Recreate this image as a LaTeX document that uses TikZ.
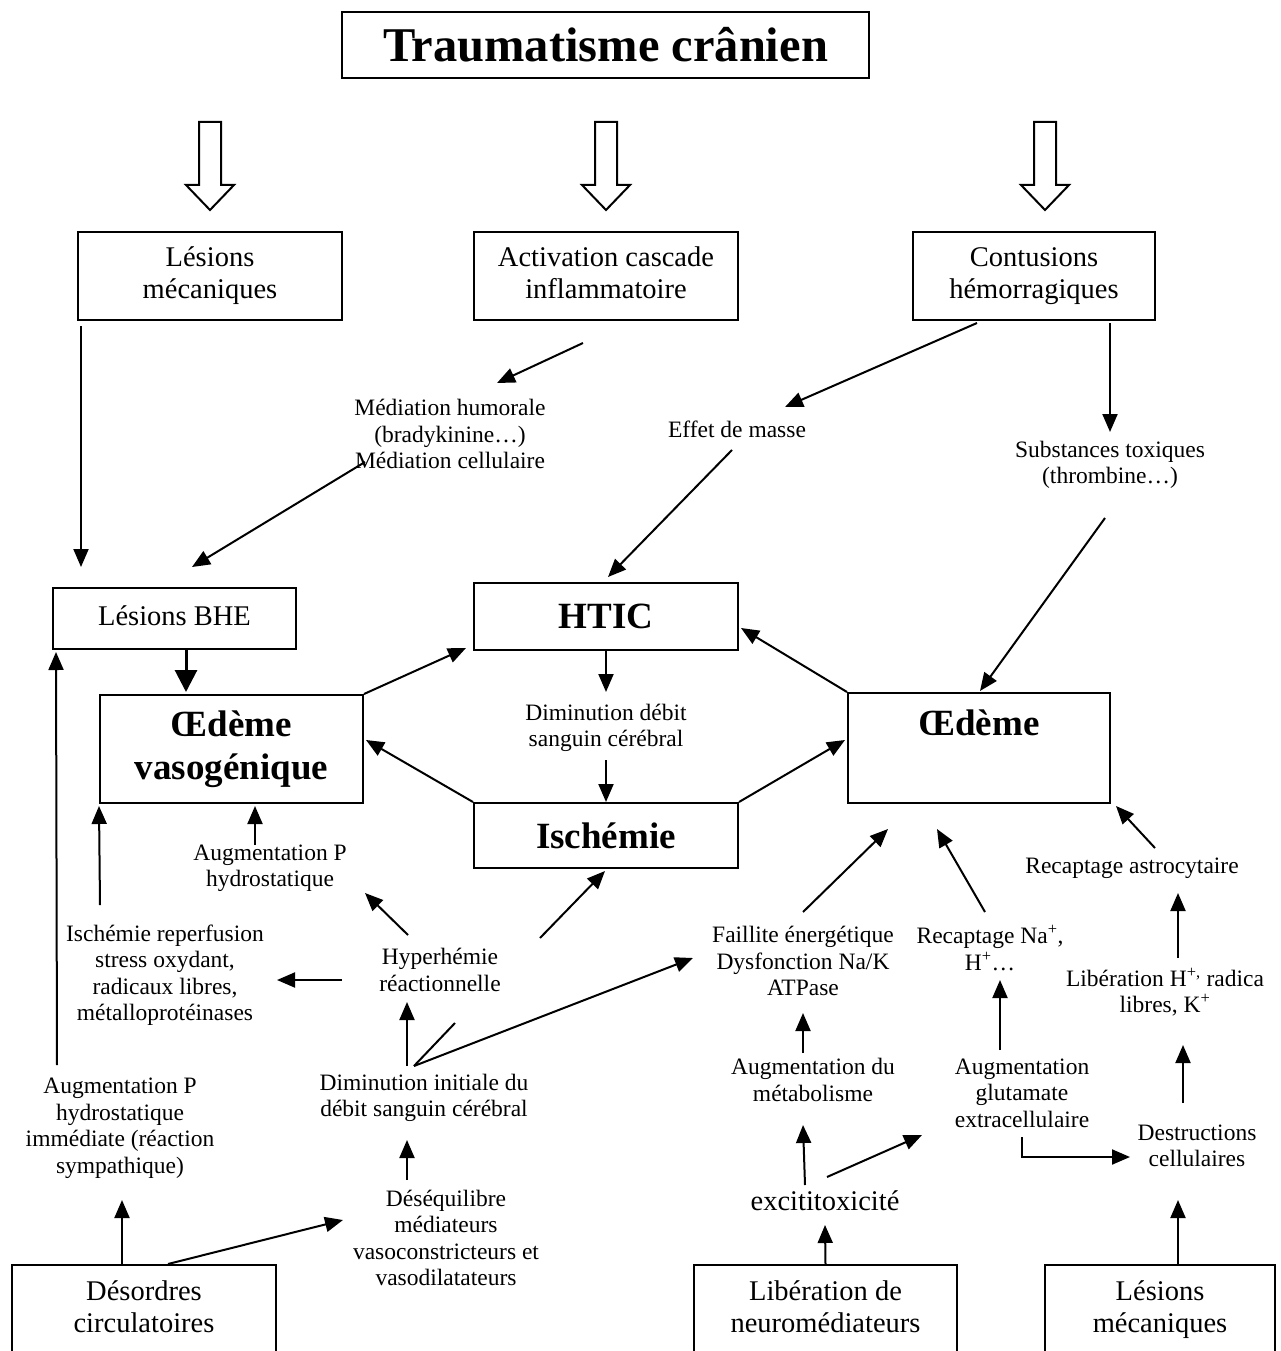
\documentclass[tikz,border=0pt]{standalone}
\usepackage{fontspec}
\setmainfont{Liberation Serif}
\usetikzlibrary{arrows.meta}
\newcommand\fsm{\fontsize{23.5}{26.5}\selectfont}
\newcommand\fmd{\fontsize{28.5}{32}\selectfont}
\newcommand\fbg{\bfseries\fontsize{37}{43}\selectfont}
\newcommand\fti{\bfseries\fontsize{48.5}{52}\selectfont}
\begin{document}
\begin{tikzpicture}[x=1pt,y=-1pt,
  box/.style={draw, line width=2pt, align=center, inner sep=0pt, font=\fmd},
  lbl/.style={align=center, inner sep=0pt, font=\fsm},
  arr/.style={line width=2pt, -{Triangle[length=18pt,width=15pt]}},
  bigarr/.style={line width=3pt, -{Triangle[length=22pt,width=22pt]}},
  hollow/.style={draw, line width=2pt, fill=white}]
\useasboundingbox[fill=white] (0,0) rectangle (1281,1351);

% boxes
\node[box, font=\fti, minimum width=527, minimum height=66] (title) at (605.5,45) {Traumatisme crânien};
\node[box, minimum width=264, minimum height=88] (lm) at (210,276) {Lésions\\mécaniques};
\node[box, minimum width=264, minimum height=88] (act) at (606,276) {\raisebox{3pt}{\begin{tabular}{@{}c@{}}Activation cascade\\inflammatoire\end{tabular}}};
\node[box, minimum width=242, minimum height=88] (cont) at (1034,276) {Contusions\\hémorragiques};
\node[box, minimum width=243, minimum height=61] (bhe) at (174.5,618.5) {\raisebox{6pt}{Lésions BHE}};
\node[box, font=\fbg, minimum width=263, minimum height=108] (ov) at (231.5,749) {Œdème\\vasogénique};
\node[box, font=\fbg, minimum width=264, minimum height=67] (htic) at (606,616.5) {HTIC};
\node[box, font=\fbg, minimum width=264, minimum height=65] (isch) at (606,835.5) {Ischémie};
\node[box, minimum width=262, minimum height=110] (oe) at (979,748) {};
\node[lbl, font=\fbg] (oet) at (979,723) {Œdème};
\node[box, minimum width=264, minimum height=90] (des) at (144,1310) {\raisebox{2pt}{\begin{tabular}{@{}c@{}}Désordres\\circulatoires\end{tabular}}};
\node[box, minimum width=263, minimum height=90] (lib) at (825.5,1310) {\raisebox{2pt}{\begin{tabular}{@{}c@{}}Libération de\\neuromédiateurs\end{tabular}}};
\node[box, minimum width=230, minimum height=90] (lm2) at (1160,1310) {\raisebox{2pt}{\begin{tabular}{@{}c@{}}Lésions\\mécaniques\end{tabular}}};

% hollow arrows
\foreach \xx/\nn in {210/lm,606/act,1045/cont}{
  \draw[hollow] (\xx-11,122) -- (\xx+11,122) -- (\xx+11,185) -- (\xx+24,185) -- (\xx,210) -- (\xx-24,185) -- (\xx-11,185) -- cycle;
}

% labels
\node[lbl] (med) at (450,434) {Médiation humorale\\(bradykinine…)\\Médiation cellulaire};
\node[lbl] (effet) at (737,429) {Effet de masse};
\node[lbl] (subst) at (1110,465) {Substances toxiques\\(thrombine…)};
\node[lbl] (dd) at (606,728) {Diminution débit\\sanguin cérébral};
\node[lbl] (augp) at (270,868) {Augmentation P\\hydrostatique};
\node[lbl] (isr) at (165,975) {Ischémie reperfusion\\stress oxydant,\\radicaux libres,\\métalloprotéinases};
\node[lbl] (hyp) at (440,970) {Hyperhémie\\réactionnelle};
\node[lbl] (dim) at (424,1098) {Diminution initiale du\\débit sanguin cérébral};
\node[lbl] (augpi) at (120,1128) {Augmentation P\\hydrostatique\\immédiate (réaction\\sympathique)};
\node[lbl] (deseq) at (446,1238) {Déséquilibre\\médiateurs\\vasoconstricteurs et\\vasodilatateurs};
\node[lbl] (fail) at (803,961) {Faillite énergétique\\Dysfonction Na/K\\ATPase};
\node[lbl] (rna) at (990,948) {Recaptage Na\textsuperscript{+},\\H\textsuperscript{+}…};
\node[lbl] (ra) at (1132,868) {Recaptage astrocytaire};
\node[lbl] (libh) at (1165,992) {Libération H\textsuperscript{+,} radica\\libres, K\textsuperscript{+}};
\node[lbl] (am) at (813,1080) {Augmentation du\\métabolisme};
\node[lbl] (ag) at (1022,1093) {Augmentation\\glutamate\\extracellulaire};
\node[lbl] (dc) at (1197,1146) {Destructions\\cellulaires};
\node[lbl, font=\fmd] (ex) at (825,1201) {excititoxicité};

% connectors
\draw[arr] ([shift={(4,5)}]lm.south west) -- ([shift={(29,-20)}]bhe.north west);
\draw[arr] ([shift={(-23,22)}]act.south) -- ([shift={(47,-51)}]med.center);
\draw[arr] ([shift={(-85,28)}]med.center) -- ([shift={(140,-20)}]bhe.north west);
\draw[arr] ([shift={(-57,2)}]cont.south) -- ([shift={(48,-22)}]effet.center);
\draw[arr] ([shift={(76,2)}]cont.south) -- ([shift={(0,-33)}]subst.center);
\draw[arr] ([shift={(-5,21)}]effet.center) -- ([shift={(2,-5)}]htic.north);
\draw[arr] ([shift={(-5,53)}]subst.center) -- ([shift={(1,-1)}]oe.north);
\draw[bigarr] ([shift={(11.5,0)}]bhe.south) -- ([shift={(-45.5,-2)}]ov.north);
\draw[arr] (ov.north east) -- ([shift={(-7,-3)}]htic.south west);
\draw[arr] (isch.north west) -- ([shift={(2,-9)}]ov.east);
\draw[arr] (htic.south) -- ([shift={(0,-36)}]dd.center);
\draw[arr] ([shift={(0,32)}]dd.center) -- (isch.north);
\draw[arr] (isch.north east) -- ([shift={(-2,-8)}]oe.west);
\draw[arr] (oe.north west) -- ([shift={(2,11.5)}]htic.east);
\draw[arr] ([shift={(-15,-23)}]augp.center) -- ([shift={(23.5,2)}]ov.south);
\draw[arr] ([shift={(-65,-70)}]isr.center) -- ([shift={(0,2)}]ov.south west);
\draw[arr] ([shift={(-32,-35)}]hyp.center) -- ([shift={(95,25)}]augp.center);
\draw[arr] ([shift={(-98,10)}]hyp.center) -- ([shift={(112,5)}]isr.center);
\coordinate (apex) at ([shift={(-10,-32)}]dim.center);
\coordinate (brk1) at (455,1023);
\coordinate (brk2) at (540,938);
\draw[line width=2pt] (apex) -- (brk1);
\draw[arr] (brk2) -- ([shift={(-1,2)}]isch.south);
\draw[arr] ([shift={(-17,-32)}]dim.center) -- ([shift={(-33,32)}]hyp.center);
\draw[arr] (apex) -- ([shift={(-110,-3)}]fail.center);
\draw[arr] ([shift={(-39,-58)}]deseq.center) -- ([shift={(-17,42)}]dim.center);
\draw[arr] ([shift={(-22,0)}]des.north) -- ([shift={(2,72)}]augpi.center);
\draw[arr] ([shift={(24,0)}]des.north) -- ([shift={(-103,-18)}]deseq.center);
\draw[arr] ([shift={(-63,-63)}]augpi.center) -- ([shift={(4,2)}]bhe.south west);
\draw[arr] ([shift={(0,-49)}]fail.center) -- ([shift={(-91,25)}]oe.south);
\draw[arr] ([shift={(-5,-36)}]rna.center) -- ([shift={(-42,25)}]oe.south);
\draw[arr] ([shift={(23,-20)}]ra.center) -- ([shift={(5,2)}]oe.south east);
\draw[arr] ([shift={(13,-34)}]libh.center) -- ([shift={(46,25)}]ra.center);
\draw[arr] ([shift={(-10,-27)}]am.center) -- ([shift={(0,52)}]fail.center);
\draw[arr] ([shift={(-22,-43)}]ag.center) -- ([shift={(10,32)}]rna.center);
\draw[arr] ([shift={(-14,-43)}]dc.center) -- ([shift={(18,53)}]libh.center);
\draw[arr] ([shift={(-20,-16)}]ex.center) -- ([shift={(-10,45)}]am.center);
\draw[arr] ([shift={(2,-24)}]ex.center) -- ([shift={(-100,42)}]ag.center);
\draw[arr] ([shift={(0,44)}]ag.center) |- ([shift={(-67,11)}]dc.center);
\draw[arr] (lib.north) -- ([shift={(0,24)}]ex.center);
\draw[arr] ([shift={(18,0)}]lm2.north) -- ([shift={(-19,54)}]dc.center);
\end{tikzpicture}
\end{document}
